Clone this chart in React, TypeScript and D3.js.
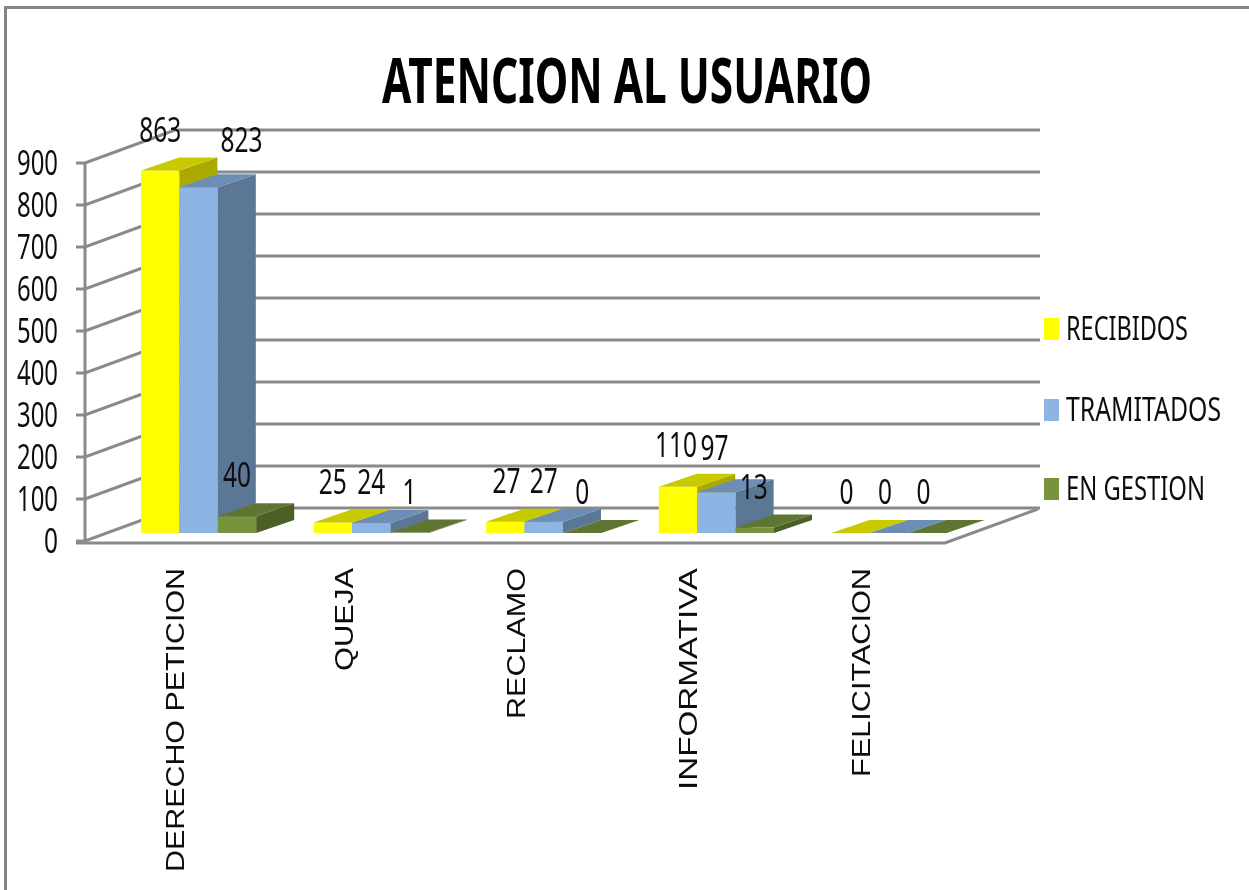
import React from "react";
import * as d3 from "d3";

const categories = ["DERECHO PETICION", "QUEJA", "RECLAMO", "INFORMATIVA", "FELICITACION"];
const recibidos = [863, 25, 27, 110, 0];
const tramitados = [823, 24, 27, 97, 0];
const enGestion = [40, 1, 0, 13, 0];
const yTicks = [0, 100, 200, 300, 400, 500, 600, 700, 800, 900];
const seriesNames = ["RECIBIDOS", "TRAMITADOS", "EN GESTION"];
const seriesValues = [recibidos, tramitados, enGestion];
const title = "ATENCION AL USUARIO";

const palette = [
  { front: "#FFFF00", top: "#C9C900", side: "#A9A900" },
  { front: "#8DB4E2", top: "#6C8DB6", side: "#5B7696" },
  { front: "#77933C", top: "#5E7630", side: "#4B5F26" },
];
const catLen = [304, 103, 151, 222, 209];
const catOffset = [43, 39, 39, 38.5, 39];
const legendY = [329, 410, 489];
const legendLen = [122, 155, 139];
// hand placement of the few labels the original chart moved off their bars
const nudges: Record<string, [number, number]> = {
  "0-1": [43, -6],
  "3-0": [-2, -1],
  "3-1": [-2, -3],
  "3-2": [-1, 0],
  "2-0": [1, 0],
  "4-0": [-4, 0],
  "4-1": [-4, 0],
  "4-2": [-4, 0],
};

const DX = 38;
const DY = -13;
const WALL_DX = 90;
const WALL_DY = -33;
const FONT = "'Noto Sans', sans-serif";
const GRID = "#8a8a8a";
const SX = 0.75;

function Narrow({ x, y, w, size, children }: { x: number; y: number; w: number; size: number; children: string }) {
  return (
    <text transform={`translate(${x},${y}) scale(${SX},1)`} fontFamily={FONT} fontSize={size} textLength={w / SX} lengthAdjust="spacingAndGlyphs" fill="#111">
      {children}
    </text>
  );
}

export default function App() {
  const y = d3.scaleLinear().domain([0, 900]).range([541, 163]);
  const barH = (v: number) => y(0) - y(v);
  const base = 533;
  const cat = d3.scaleBand<number>().domain(d3.range(5)).range([141, 141 + 172.6 * 5]).paddingInner(0).paddingOuter(0);
  const bw = 38.4;

  return (
    <svg width={1249} height={890} style={{ position: "absolute", left: 0, top: 0, background: "#fff" }}>
      <defs>
        <filter id="soft" x="-2%" y="-2%" width="104%" height="104%">
          <feGaussianBlur stdDeviation="0.55" />
        </filter>
      </defs>
      <g filter="url(#soft)">
        <path d="M5.5 890V7.5H1249" fill="none" stroke="#858585" strokeWidth={3} />
        <text x={382} y={103} fontFamily={FONT} fontWeight={700} fontSize={63} textLength={490} lengthAdjust="spacingAndGlyphs">{title}</text>

        {yTicks.map((t) => (
          <polyline key={t} fill="none" stroke={GRID} strokeWidth={3} points={`${76},${y(t)} ${85},${y(t)} ${85 + WALL_DX},${y(t) + WALL_DY} 1040,${y(t) + WALL_DY}`} />
        ))}
        <line x1={85} x2={85} y1={y(900)} y2={543} stroke={GRID} strokeWidth={3} />
        <polyline points="76,543 945,543 1038,509" fill="none" stroke={GRID} strokeWidth={3} />

        {yTicks.map((t) => (
          <Narrow key={t} x={t === 0 ? 44 : 17} y={y(t) + 12} w={t === 0 ? 14 : 41} size={34}>{String(t)}</Narrow>
        ))}

        {categories.map((_, c) =>
          seriesValues.map((vals, s) => {
            const x0 = (cat(c) as number) + s * bw;
            const x1 = x0 + bw;
            const h = barH(vals[c]);
            const top = base - h;
            const p = palette[s];
            return (
              <g key={`${c}-${s}`}>
                <rect x={x0} y={top} width={bw} height={h} fill={p.front} />
                <path d={`M${x1} ${top}L${x1 + DX} ${top + DY}V${base + DY}L${x1} ${base}Z`} fill={p.side} />
                <path d={`M${x0} ${top}L${x0 + DX} ${top + DY}H${x1 + DX}L${x1} ${top}Z`} fill={p.top} />
              </g>
            );
          })
        )}

        {categories.map((_, c) =>
          seriesValues.map((vals, s) => {
            const n = nudges[`${c}-${s}`] || [0, 0];
            const text = String(vals[c]);
            const cx = (cat(c) as number) + (s + 0.5) * bw + n[0];
            const cy = base - barH(vals[c]) - 41 + n[1];
            const w = text.length * 14;
            return (
              <Narrow key={`${c}-${s}`} x={cx - w / 2} y={cy + 12} w={w} size={34}>{text}</Narrow>
            );
          })
        )}

        {categories.map((name, c) => {
          const x = (cat(c) as number) + catOffset[c];
          return (
            <text key={name} transform={`translate(${x},${c === 0 ? 872 : 568 + catLen[c]}) rotate(-90)`} fontFamily="'Liberation Sans', sans-serif" fontSize={25} textLength={catLen[c]} lengthAdjust="spacingAndGlyphs" fill="#111">{name}</text>
          );
        })}

        {seriesNames.map((name, s) => (
          <g key={name}>
            <rect x={1044} y={legendY[s] - 11} width={15} height={22} fill={palette[s].front} />
            <Narrow x={1066} y={legendY[s] + 11} w={legendLen[s]} size={32}>{name}</Narrow>
          </g>
        ))}
      </g>
    </svg>
  );
}
